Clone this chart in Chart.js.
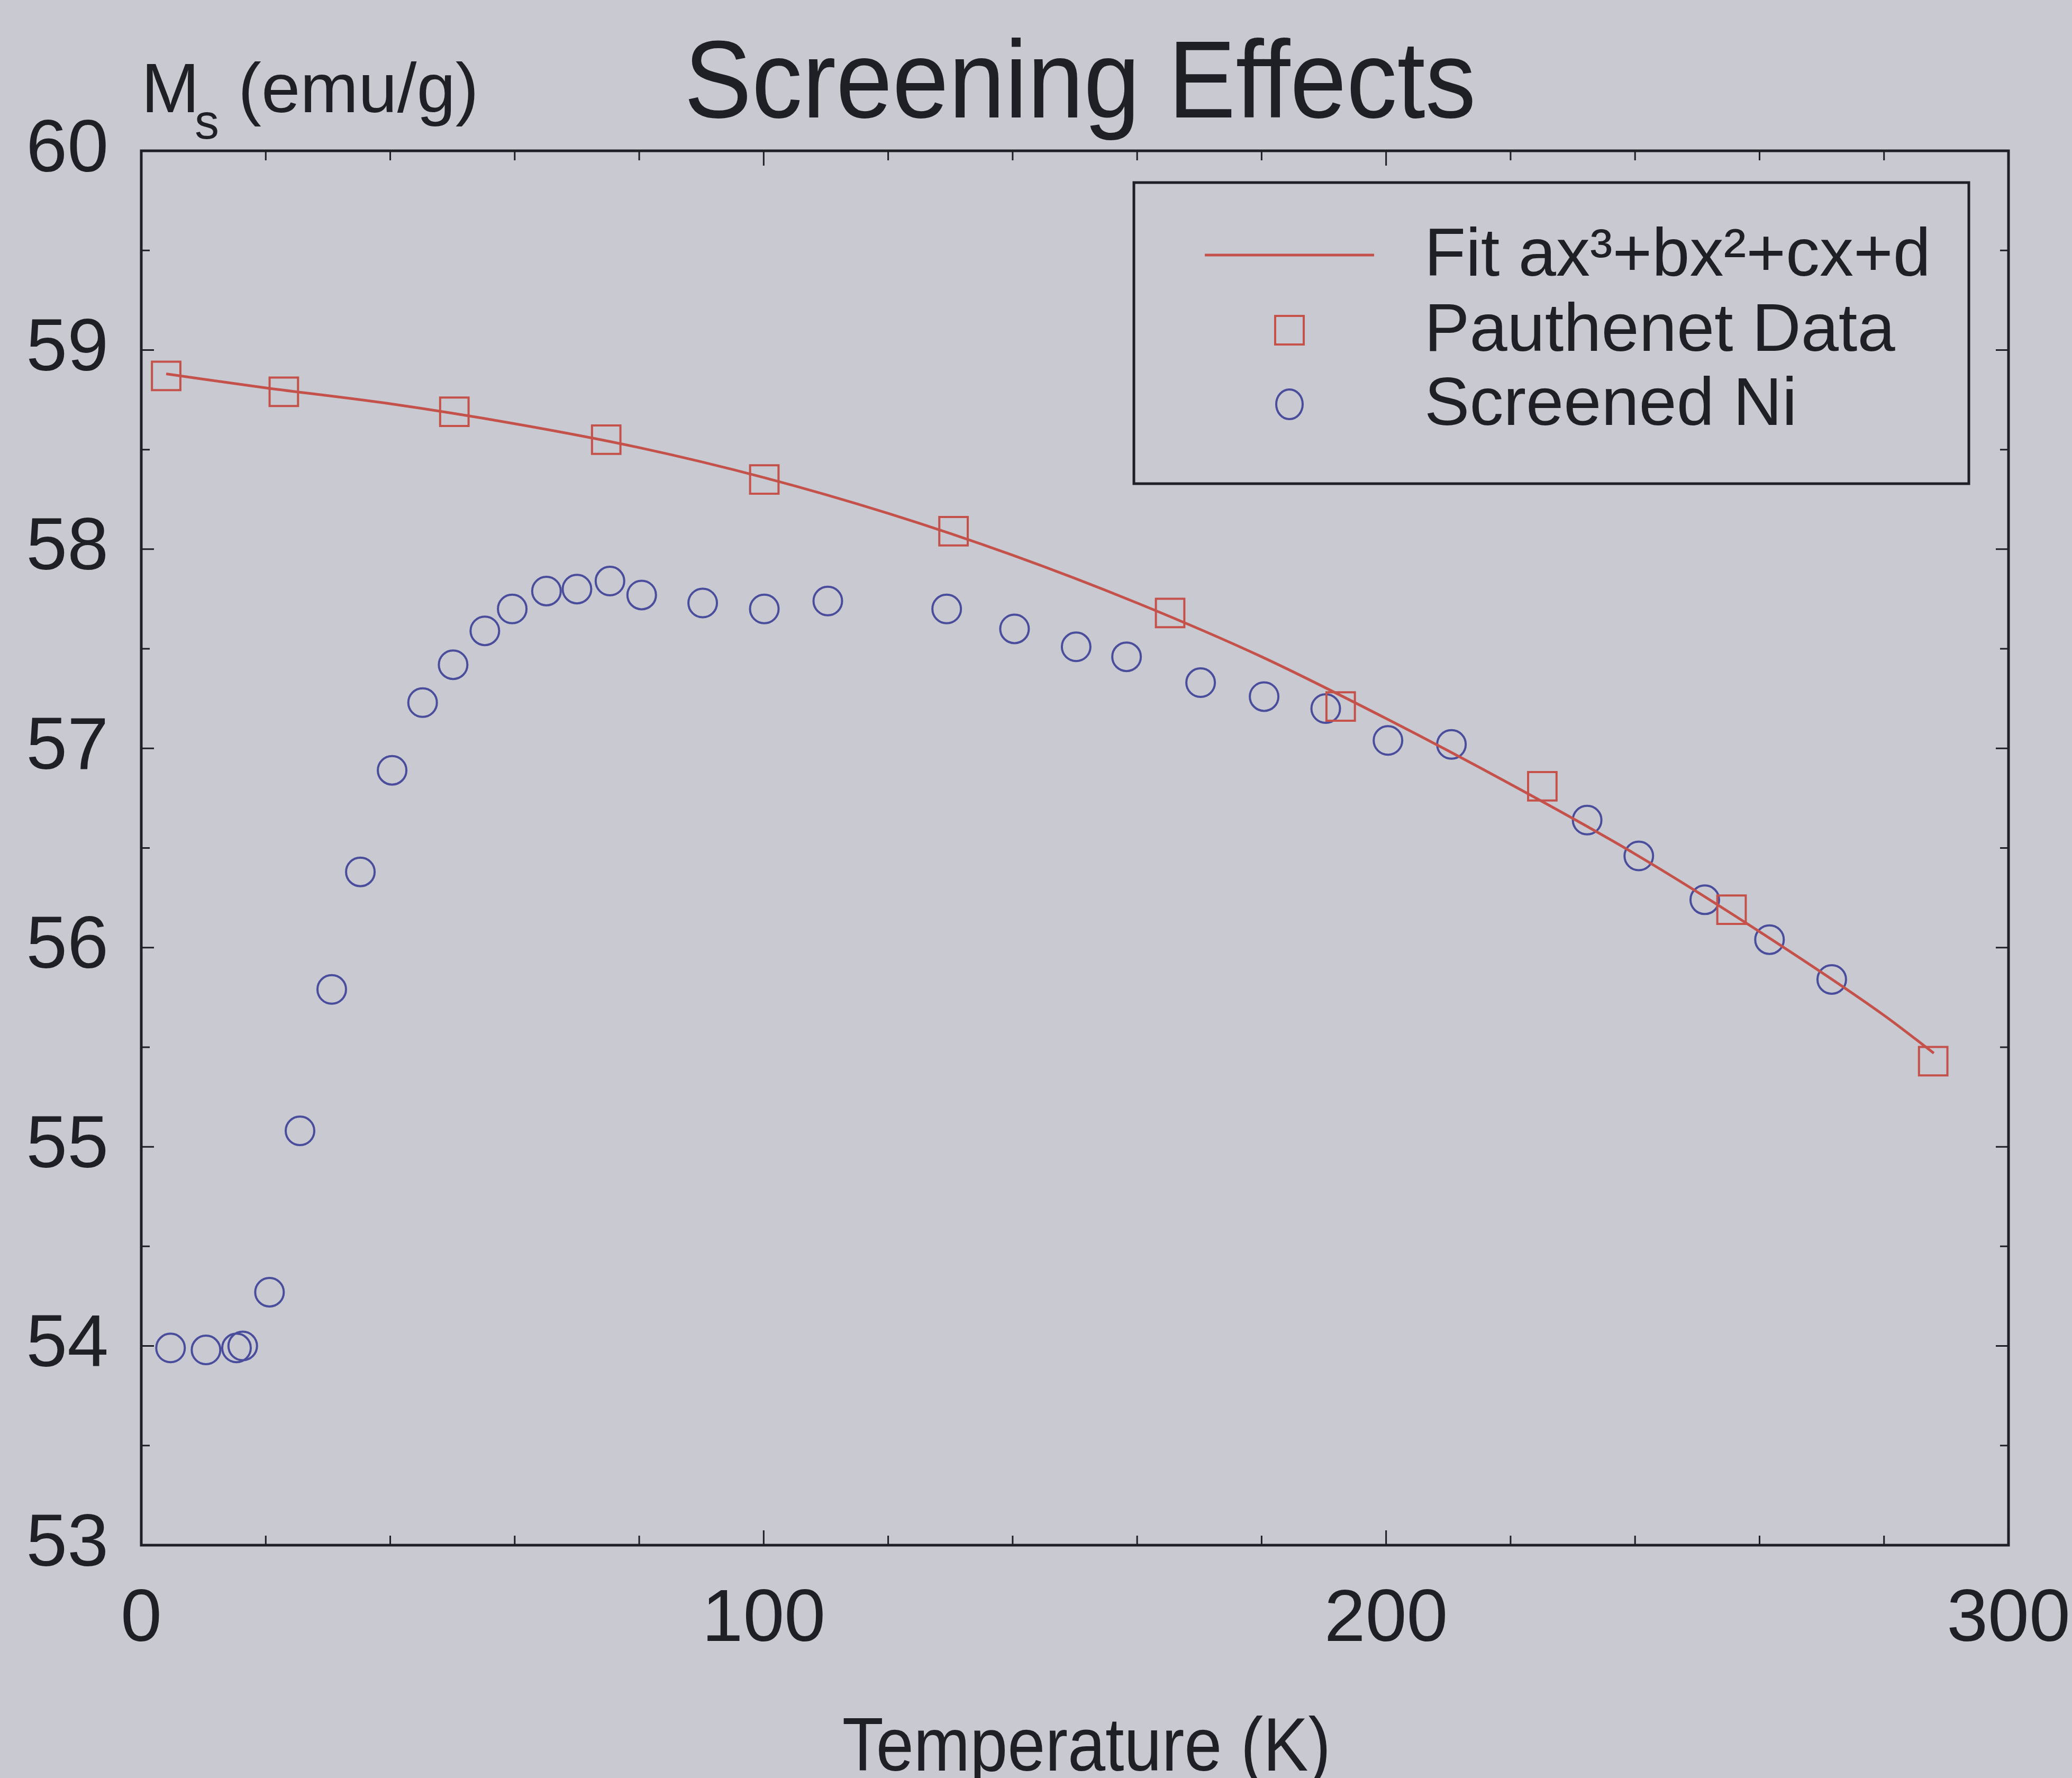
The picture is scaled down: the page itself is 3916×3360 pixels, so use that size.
<!DOCTYPE html>
<html>
<head>
<meta charset="utf-8">
<title>Screening Effects</title>
<script src="https://cdn.jsdelivr.net/npm/chart.js@4/dist/chart.umd.min.js"></script>
<style>
  html, body { margin: 0; padding: 0; background: #c9c9d1; }
  #wrap { width: 3916px; height: 3360px; }
</style>
</head>
<body>
<div id="wrap"><canvas id="chartCanvas" width="3916" height="3360"></canvas></div>
<script>
// cubic fit curve
const fitTemps = [4, 20, 40, 60, 80, 100, 120, 140, 160, 180, 200, 220, 240, 260, 280, 288];
const fitMs = [58.88, 58.81, 58.73, 58.63, 58.51, 58.36, 58.18, 57.97, 57.73, 57.46, 57.15, 56.82, 56.47, 56.08, 55.66, 55.47];

// Pauthenet reference points
const pauthenetTemps = [4, 22.9, 50.3, 74.7, 100.1, 130.5, 165.3, 192.7, 225.1, 255.5, 287.9];
const pauthenetMs = [58.87, 58.79, 58.69, 58.55, 58.35, 58.09, 57.68, 57.21, 56.81, 56.19, 55.43];

// screened Ni points
const screenedTemps = [4.7, 10.4, 15.3, 16.3, 20.6, 25.5, 30.6, 35.2, 40.3, 45.2, 50.1, 55.2, 59.6, 65.1, 70.0, 75.3, 80.4,
  90.2, 100.1, 110.3, 129.4, 140.3, 150.2, 158.3, 170.2, 180.4, 190.3, 200.3, 210.5, 232.3, 240.6, 251.2, 261.6, 271.6];
const screenedMs = [53.99, 53.98, 53.99, 54.00, 54.27, 55.08, 55.79, 56.38, 56.89, 57.23, 57.42, 57.59, 57.70, 57.79, 57.80, 57.84, 57.77,
  57.73, 57.70, 57.74, 57.70, 57.60, 57.51, 57.46, 57.33, 57.26, 57.20, 57.04, 57.02, 56.64, 56.46, 56.24, 56.04, 55.84];

const xTickValues = [0, 100, 200, 300];
const yTickValues = [53, 54, 55, 56, 57, 58, 59, 60];

const FONT = '"Liberation Sans", Arial, sans-serif';
const INK = "#1f1f26";
const RED = "#c4514a";
const BLUE = "#4a4d9c";

Chart.defaults.font.family = FONT;
Chart.defaults.color = INK;

const toPoints = (xs, ys) => xs.map((x, i) => ({ x, y: ys[i] }));

// text squeezed a little horizontally, like the narrow plot font
function narrowText(ctx, text, x, y, size, squeeze, align = "left") {
  ctx.save();
  ctx.font = `${size}px ${FONT}`;
  ctx.textAlign = align;
  ctx.translate(x, y);
  ctx.scale(squeeze, 1);
  ctx.fillText(text, 0, 0);
  ctx.restore();
}

// frame box, inward ticks, titles and the boxed legend
const decorations = {
  id: "decorations",
  beforeDraw(chart) {
    const { ctx, width, height } = chart;
    ctx.save();
    ctx.fillStyle = "#c9c9d1";
    ctx.fillRect(0, 0, width, height);
    ctx.restore();
  },
  afterDraw(chart) {
    const { ctx, chartArea: a, scales } = chart;
    const xs = scales.x, ys = scales.y;
    ctx.save();

    // frame
    ctx.strokeStyle = INK;
    ctx.lineWidth = 5;
    ctx.strokeRect(a.left, a.top, a.right - a.left, a.bottom - a.top);

    // ticks every 20 K on x, every 0.5 on y
    ctx.lineWidth = 3;
    ctx.beginPath();
    for (let t = 0; t <= 300; t += 20) {
      const px = xs.getPixelForValue(t);
      const len = t % 100 === 0 ? 28 : 18;
      ctx.moveTo(px, a.bottom); ctx.lineTo(px, a.bottom - len);
      ctx.moveTo(px, a.top); ctx.lineTo(px, a.top + len);
    }
    for (let v = 53; v <= 60; v += 0.5) {
      const py = ys.getPixelForValue(v);
      const len = Number.isInteger(v) ? 24 : 16;
      ctx.moveTo(a.left, py); ctx.lineTo(a.left + len, py);
      ctx.moveTo(a.right, py); ctx.lineTo(a.right - len, py);
    }
    ctx.stroke();

    // chart title, axis labels
    ctx.fillStyle = INK;
    ctx.textBaseline = "alphabetic";
    narrowText(ctx, "Screening Effects", 1293, 222, 208, 0.92);
    narrowText(ctx, "M", 267, 212, 132, 1);
    narrowText(ctx, "s", 368, 262, 92, 1);
    narrowText(ctx, "(emu/g)", 450, 212, 132, 1);
    narrowText(ctx, "Temperature (K)", (a.left + a.right) / 2 + 22, 3346, 142, 0.9, "center");

    // legend box
    const box = { left: 2143, top: 345, right: 3721, bottom: 914 };
    ctx.lineWidth = 5;
    ctx.strokeStyle = INK;
    ctx.strokeRect(box.left, box.top, box.right - box.left, box.bottom - box.top);

    const rows = [482, 624, 764];
    const markX = 2437;
    chart.data.datasets.forEach((ds, i) => {
      const y = rows[i];
      ctx.strokeStyle = ds.borderColor;
      if (ds.showLine) {
        ctx.lineWidth = ds.borderWidth;
        ctx.beginPath();
        ctx.moveTo(2277, y); ctx.lineTo(2597, y);
        ctx.stroke();
      } else {
        ctx.lineWidth = ds.pointBorderWidth;
        ctx.beginPath();
        if (ds.pointStyle === "rect") {
          ctx.rect(markX - 27, y - 27, 54, 54);
        } else {
          ctx.ellipse(markX, y, 25, 28, 0, 0, Math.PI * 2);
        }
        ctx.stroke();
      }
      ctx.fillStyle = INK;
      ctx.textBaseline = "middle";
      narrowText(ctx, ds.label, 2692, y + 4, 128, 1);
    });

    ctx.restore();
  }
};

new Chart(document.getElementById("chartCanvas"), {
  type: "scatter",
  data: {
    datasets: [
      {
        label: "Fit ax³+bx²+cx+d",
        data: toPoints(fitTemps, fitMs),
        showLine: true,
        borderColor: RED,
        borderWidth: 5,
        pointRadius: 0,
        tension: 0.4,
        cubicInterpolationMode: "monotone"
      },
      {
        label: "Pauthenet Data",
        data: toPoints(pauthenetTemps, pauthenetMs),
        showLine: false,
        pointStyle: "rect",
        pointRadius: 38,
        pointBorderWidth: 4,
        borderColor: RED,
        pointBorderColor: RED,
        pointBackgroundColor: "rgba(0,0,0,0)"
      },
      {
        label: "Screened Ni",
        data: toPoints(screenedTemps, screenedMs),
        showLine: false,
        pointStyle: "circle",
        pointRadius: 27,
        pointBorderWidth: 4,
        borderColor: BLUE,
        pointBorderColor: BLUE,
        pointBackgroundColor: "rgba(0,0,0,0)"
      }
    ]
  },
  options: {
    responsive: false,
    animation: false,
    events: [],
    layout: { padding: { top: 285, right: 120, left: 0, bottom: 0 } },
    plugins: {
      legend: { display: false },
      title: { display: false },
      tooltip: { enabled: false }
    },
    scales: {
      x: {
        type: "linear",
        min: 0,
        max: 300,
        afterBuildTicks: s => { s.ticks = xTickValues.map(value => ({ value })); },
        afterFit: s => { s.height = 440; s.paddingLeft = 0; s.paddingRight = 0; },
        grid: { display: false, drawTicks: false },
        border: { display: false },
        ticks: { font: { size: 140 }, color: INK, padding: 58, maxRotation: 0, autoSkip: false },
        title: { display: false }
      },
      y: {
        type: "linear",
        min: 53,
        max: 60,
        afterBuildTicks: s => { s.ticks = yTickValues.map(value => ({ value })); },
        afterFit: s => { s.width = 267; },
        grid: { display: false, drawTicks: false },
        border: { display: false },
        ticks: { font: { size: 140 }, color: INK, padding: 62 }
      }
    }
  },
  plugins: [decorations]
});
</script>
</body>
</html>
